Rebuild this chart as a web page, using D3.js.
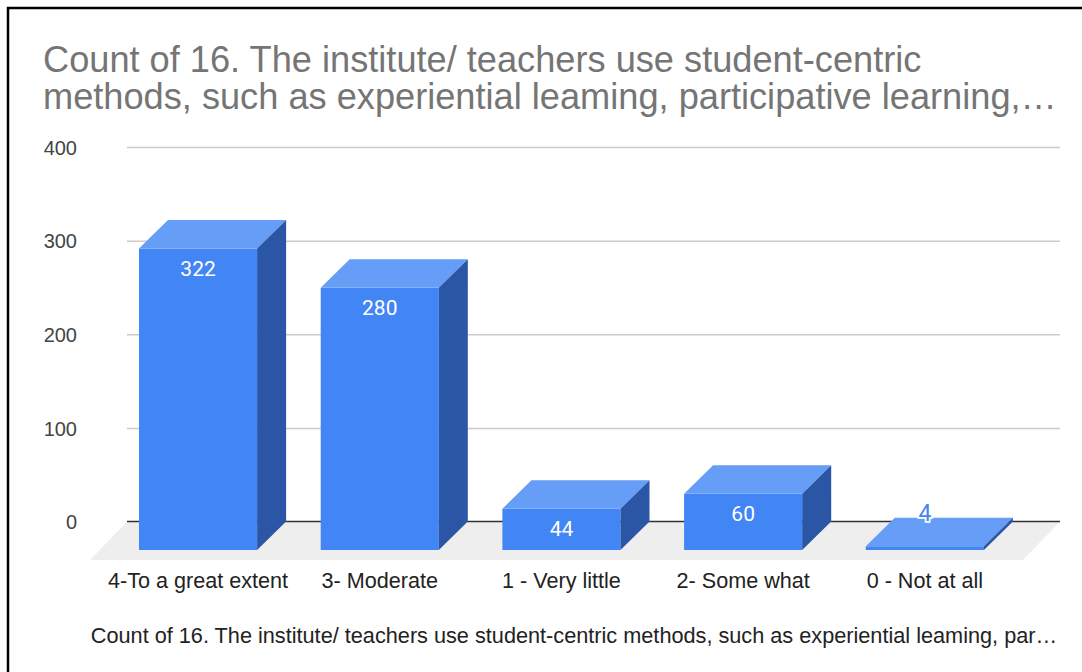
<!DOCTYPE html>
<html lang="en">
  <head>
    <meta charset="UTF-8">
    <title>Count of 16</title>
    <style>
      html, body {
        margin: 0;
        padding: 0;
        background: #fff;
      }

      text {
        font-family: Arial, "Liberation Sans", sans-serif;
      }

      .tick text {
        font-size: 20px;
        fill: #444;
      }

      .grid line {
        stroke: #cccccc;
        stroke-width: 1.5px;
      }
    </style>
  </head>
  <body>
    <svg width="1082" height="672"></svg>
    <script src="https://cdn.jsdelivr.net/npm/d3@7/dist/d3.min.js"></script>
    <script>

      // data
      const categories = ['4-To a great extent', '3- Moderate', '1 - Very little', '2- Some what', '0 - Not at all']
      const counts = [322, 280, 44, 60, 4]
      const yTicks = [0, 100, 200, 300, 400]

      const titleLines = [
        'Count of 16. The institute/ teachers use student-centric',
        'methods, such as experiential leaming, participative learning,…'
      ]
      const axisTitle = 'Count of 16. The institute/ teachers use student-centric methods, such as experiential leaming, par…'

      const svg = d3.select('svg')

      // back wall of the plot
      const left = 127, right = 1060
      // bar depth (front face is shifted left/down from the back wall)
      const dx = 29, dy = 28.5
      // floor depth
      const fdx = 37, fdy = 38.5

      const y = d3.scaleLinear().domain([0, 400]).range([521.5, 147])

      // x positions of the front faces
      const x = d3.scaleBand()
        .domain(categories)
        .range([107.2, 1015.7])
        .paddingInner(0.35)
        .paddingOuter(0.175)

      // frame (only top and left edges are visible)
      svg.append('path')
        .attr('d', 'M8,672 L8,8 L1082,8')
        .attr('fill', 'none')
        .attr('stroke', '#000')
        .attr('stroke-width', 2.5)

      // title
      svg.append('g').selectAll('text')
        .data(titleLines)
        .enter().append('text')
        .attr('x', 43)
        .attr('y', function (d, i) { return 72 + i * 37 })
        .attr('font-size', '36.2px')
        .attr('fill', '#757575')
        .text(function (d) { return d })

      // floor
      const y0 = y(0)
      svg.append('path')
        .attr('d', 'M' + left + ',' + y0 + ' L' + right + ',' + y0 +
          ' L' + (right - fdx) + ',' + (y0 + fdy) + ' L' + (left - fdx) + ',' + (y0 + fdy) + 'Z')
        .attr('fill', '#eeeeee')

      // gridlines
      svg.append('g')
        .attr('class', 'grid')
        .attr('transform', 'translate(' + left + ',0)')
        .call(d3.axisLeft(y).tickValues(yTicks.filter(function (t) { return t > 0 }))
          .tickSize(-(right - left)).tickFormat(''))
        .call(function (g) { g.select('.domain').remove() })

      // zero line
      svg.append('line')
        .attr('x1', left).attr('x2', right)
        .attr('y1', y0).attr('y2', y0)
        .attr('stroke', '#333')
        .attr('stroke-width', 1.5)

      // y tick labels
      svg.append('g')
        .attr('transform', 'translate(77,0)')
        .call(d3.axisLeft(y).tickValues(yTicks).tickSize(0).tickPadding(0))
        .call(function (g) { g.select('.domain').remove() })
        .call(function (g) { g.selectAll('text').attr('dy', '0.36em') })

      // bars
      const bw = x.bandwidth()
      const bar = svg.append('g').selectAll('g')
        .data(counts)
        .enter().append('g')

      function front (d, i) { return { x: x(categories[i]), top: y(d) + dy, bottom: y0 + dy } }
      function inside (d, i) { const f = front(d, i); return (f.bottom - f.top) > 30 }

      bar.append('rect')
        .attr('x', function (d, i) { return front(d, i).x })
        .attr('y', function (d, i) { return front(d, i).top })
        .attr('width', bw)
        .attr('height', function (d) { return y0 - y(d) })
        .attr('fill', '#4285f4')

      bar.append('path')
        .attr('d', function (d, i) {
          const f = front(d, i)
          return 'M' + f.x + ',' + f.top + ' L' + (f.x + bw) + ',' + f.top +
            ' L' + (f.x + bw + dx) + ',' + (f.top - dy) + ' L' + (f.x + dx) + ',' + (f.top - dy) + 'Z'
        })
        .attr('fill', '#669df6')

      bar.append('path')
        .attr('d', function (d, i) {
          const f = front(d, i)
          return 'M' + (f.x + bw) + ',' + f.top + ' L' + (f.x + bw + dx) + ',' + (f.top - dy) +
            ' L' + (f.x + bw + dx) + ',' + (f.bottom - dy) + ' L' + (f.x + bw) + ',' + f.bottom + 'Z'
        })
        .attr('fill', '#2b56a5')

      // value labels: inside the front face, or above it for short bars
      bar.append('text')
        .attr('x', function (d, i) { return front(d, i).x + bw / 2 })
        .attr('y', function (d, i) {
          const f = front(d, i)
          return inside(d, i) ? f.top + 27 : f.top - 25
        })
        .attr('text-anchor', 'middle')
        .style('font-family', 'Roboto, Arial, sans-serif')
        .attr('font-size', function (d, i) { return inside(d, i) ? '21px' : '23px' })
        .attr('fill', function (d, i) { return inside(d, i) ? '#ffffff' : '#4285f4' })
        .attr('stroke', function (d, i) { return inside(d, i) ? 'none' : '#ffffff' })
        .attr('stroke-width', 3.5)
        .attr('paint-order', 'stroke')
        .text(function (d) { return d })

      // category labels
      svg.append('g').selectAll('text')
        .data(categories)
        .enter().append('text')
        .attr('x', function (d) { return x(d) + bw / 2 })
        .attr('y', 588)
        .attr('text-anchor', 'middle')
        .attr('font-size', '21.6px')
        .attr('fill', '#222')
        .text(function (d) { return d })

      // axis title
      svg.append('text')
        .attr('x', 574)
        .attr('y', 643)
        .attr('text-anchor', 'middle')
        .attr('font-size', '21.7px')
        .attr('fill', '#222')
        .text(axisTitle)

    </script>
  </body>
</html>
